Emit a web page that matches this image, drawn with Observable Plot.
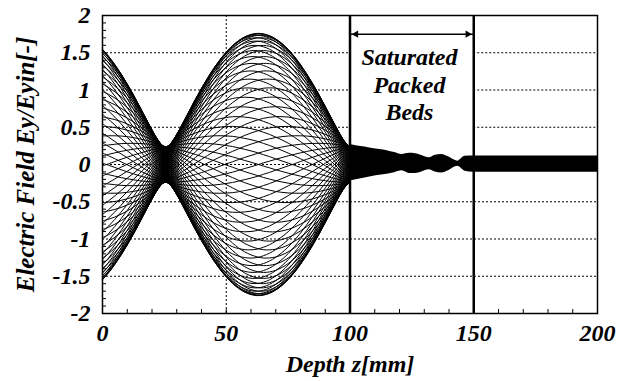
<!DOCTYPE html>
<html><head><meta charset="utf-8">
<script src="https://cdn.jsdelivr.net/npm/d3@7"></script>
<script src="https://cdn.jsdelivr.net/npm/@observablehq/plot@0.6"></script>
<style>
body{margin:0;background:#fff}
svg text{font-family:"Liberation Serif","DejaVu Serif",serif !important;font-style:italic;font-weight:bold}
</style>
</head><body><div id="chart"></div>
<script>
// Free-space region (0–100 mm): envelope |Ey/Eyin| and phase (deg)
const depth = [0,2.5,5,7.5,10,12.5,15,17.5,20,22.5,25,27.5,30,32.5,35,37.5,40,42.5,45,47.5,50,52.5,55,57.5,60,62.5,65,67.5,70,72.5,75,77.5,80,82.5,85,87.5,90,92.5,95,97.5,100];
const amplitude = [1.547,1.452,1.341,1.217,1.081,0.935,0.780,0.622,0.465,0.325,0.243,0.281,0.405,0.558,0.717,0.874,1.024,1.164,1.294,1.409,1.511,1.596,1.664,1.714,1.746,1.760,1.754,1.729,1.686,1.625,1.547,1.452,1.341,1.217,1.081,0.935,0.780,0.622,0.465,0.325,0.243];
const phase = [4.3,5.4,6.7,8.3,10.2,12.7,16.2,21.4,30.2,47.2,81.3,121.6,144.4,155.7,162.0,166.1,168.9,171.0,172.7,174.1,175.3,176.3,177.3,178.2,179.0,179.8,180.7,181.5,182.4,183.3,184.3,185.4,186.7,188.3,190.2,192.7,196.2,201.4,210.2,227.2,261.3];
// time snapshots (deg of one cycle)
const snapshots = [0,5,10,15,20,25,30,35,40,45,50,55,60,65,70,75,80,85,90,95,100,105,110,115,120,125,130,135,140,145,150,155,160,165,170,175,180,185,190,195,200,205,210,215,220,225,230,235,240,245,250,255,260,265,270,275,280,285,290,295,300,305,310,315,320,325,330,335,340,345,350,355];

// Packed bed and beyond: filled band edges
const bedDepth = [100,103,106,109,112,115,118,121,124,126.5,129,132,134.5,137,140,143.5,146.5,150,200];
const bedUpper = [0.27,0.25,0.235,0.215,0.2,0.185,0.16,0.135,0.15,0.145,0.12,0.09,0.125,0.135,0.1,0.045,0.11,0.115,0.115];
const bedLower = [-0.22,-0.2,-0.18,-0.16,-0.145,-0.13,-0.11,-0.085,-0.12,-0.12,-0.1,-0.07,-0.1,-0.115,-0.08,-0.025,-0.09,-0.105,-0.105];

// axes
const xTicks = [0,50,100,150,200];
const yTicks = [-2,-1.5,-1,-0.5,0,0.5,1,1.5,2];
const xMinorTicks = [10,20,30,40,50,60,70,80,90,110,120,130,140,160,170,180,190];
const yMinorTicks = [-1.9,-1.8,-1.7,-1.6,-1.4,-1.3,-1.2,-1.1,-0.9,-0.8,-0.7,-0.6,-0.4,-0.3,-0.2,-0.1,0.1,0.2,0.3,0.4,0.6,0.7,0.8,0.9,1.1,1.2,1.3,1.4,1.6,1.7,1.8,1.9];
const gridNeg = [-1.5,-1,-0.5,0];
const gridPos = [0.5,1,1.5];
const gridX = [50];
const bedWalls = [100,150];
const bedSpan = [{x1:100, x2:150, y:1.75}];
const bedLabel = "Saturated\nPacked\nBeds";
const xTitle = "Depth z[mm]";
const yTitle = "Electric Field Ey/Eyin[-]";

const rows = [];
for (const t of snapshots) depth.forEach((z, i) => rows.push({t, z, y: amplitude[i] * Math.cos((t - phase[i]) * Math.PI / 180)}));
const band = bedDepth.map((z, i) => ({z, hi: bedUpper[i], lo: bedLower[i]}));

const serif = '"Liberation Serif","DejaVu Serif",serif';
const txt = {fontFamily: serif, fontStyle: "italic", fontWeight: "bold", fill: "black"};
const dotted = {stroke: "black", strokeWidth: 1, strokeDasharray: "2,2"};

const chart = Plot.plot({
  width: 617, height: 381,
  marginLeft: 102, marginRight: 20, marginTop: 15, marginBottom: 68,
  style: {background: "white", color: "black", fontFamily: serif, fontSize: "24px", fontStyle: "italic", fontWeight: "bold"},
  x: {domain: [0, 200], ticks: xTicks, tickSize: 0, tickPadding: 10, tickFormat: d => String(d), label: null},
  y: {domain: [-2, 2], ticks: yTicks, tickSize: 0, tickPadding: 12, tickFormat: d => String(d), label: null},
  marks: [
    Plot.ruleY(gridNeg, {...dotted}),
    Plot.ruleY(gridPos, {...dotted, x1: 0, x2: 100}),
    Plot.ruleY(gridPos, {...dotted, x1: 150, x2: 200}),
    Plot.ruleX(gridX, {...dotted}),
    Plot.line(rows, {x: "z", y: "y", z: "t", curve: "catmull-rom", stroke: "black", strokeWidth: 1}),
    Plot.areaY(band, {x: "z", y1: "lo", y2: "hi", fill: "black", curve: "monotone-x"}),
    Plot.ruleX(bedWalls, {stroke: "black", strokeWidth: 2.5}),
    Plot.ruleX(xMinorTicks, {stroke: "black", strokeWidth: 1, insetTop: 294}),
    Plot.ruleY(yMinorTicks, {stroke: "black", strokeWidth: 1, insetRight: 491}),
    Plot.ruleY(bedSpan, {x1: "x1", x2: "x2", y: "y", stroke: "black", strokeWidth: 1.5}),
    Plot.dot(bedSpan, {x: "x1", y: "y", symbol: "triangle2", r: 3.5, rotate: -90, dx: 6, fill: "black", stroke: "none"}),
    Plot.dot(bedSpan, {x: "x2", y: "y", symbol: "triangle2", r: 3.5, rotate: 90, dx: -6, fill: "black", stroke: "none"}),
    Plot.text([bedLabel], {x: 124, y: 1.08, text: d => d, ...txt, fontSize: 24, lineHeight: 1.15}),
    Plot.text([xTitle], {frameAnchor: "bottom", text: d => d, dy: 58, textAnchor: "middle", ...txt, fontSize: 24}),
    Plot.text([yTitle], {frameAnchor: "left", text: d => d, rotate: -90, dx: -77, textAnchor: "middle", ...txt, fontSize: 25}),
    Plot.frame({stroke: "black", strokeWidth: 1.5})
  ]
});
document.getElementById("chart").appendChild(chart);
</script>
</body></html>
